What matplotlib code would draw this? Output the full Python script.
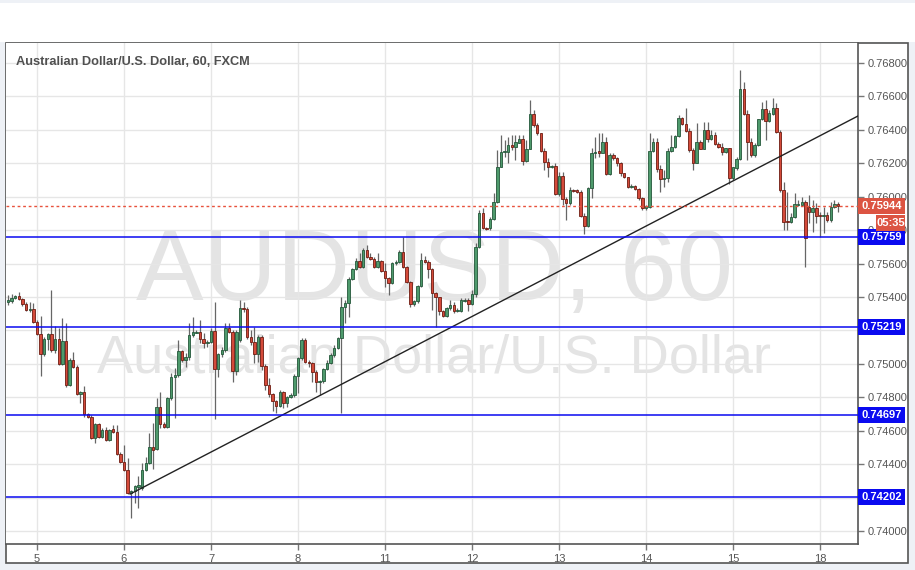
import numpy as np
import matplotlib.pyplot as plt
from matplotlib.patches import Rectangle
import matplotlib.transforms as mtransforms

plt.rcParams['font.family'] = ['Liberation Sans', 'DejaVu Sans']

# AUDUSD hourly candles, prices x 1e5
opens = [
    75370, 75376, 75394, 75406, 75388, 75358, 75322, 75328, 75250, 75179,
    75059, 75149, 75179, 75083, 75149, 74999, 75137, 74873, 75023, 74981,
    74820, 74832, 74700, 74682, 74556, 74640, 74562, 74604, 74544, 74610,
    74592, 74461, 74413, 74365, 74227, 74239, 74263, 74257, 74365, 74407,
    74503, 74491, 74742, 74640, 74622, 74796, 74921, 74933, 75077, 75023,
    75041, 75173, 75185, 75191, 75149, 75125, 75131, 75197, 74969, 75059,
    75083, 75215, 75191, 74957, 75143, 75334, 75328, 75161, 75131, 75059,
    75161, 74987, 74873, 74820, 74778, 74748, 74832, 74766, 74802, 74814,
    74927, 75035, 75143, 75011, 75005, 74951, 74891, 74897, 74969, 75005,
    75053, 75095, 75155, 75340, 75364, 75508, 75568, 75615, 75579, 75681,
    75639, 75627, 75579, 75615, 75556, 75514, 75484, 75603, 75609, 75669,
    75579, 75490, 75358, 75376, 75466, 75621, 75609, 75568, 75424, 75400,
    75316, 75286, 75334, 75352, 75316, 75316, 75376, 75382, 75358, 75418,
    75699, 75903, 75813, 75813, 75867, 75968, 76178, 76268, 76268, 76309,
    76297, 76321, 76345, 76212, 76285, 76495, 76429, 76381, 76273, 76206,
    76178, 76184, 76016, 76124, 75986, 75962, 76040, 76040, 76028, 75885,
    75825, 76052, 76262, 76273, 76262, 76327, 76136, 76250, 76232, 76202,
    76142, 76118, 76058, 76064, 76046, 75992, 75932, 75938, 76273, 76327,
    76166, 76106, 76112, 76273, 76297, 76363, 76471, 76435, 76393, 76279,
    76202, 76327, 76285, 76399, 76345, 76369, 76315, 76297, 76268, 76291,
    76112, 76172, 76226, 76644, 76495, 76327, 76250, 76309, 76465, 76525,
    76453, 76495, 76531, 76387, 76040, 75855, 75849, 75879, 75950, 75950,
    75968, 75938, 75909, 75932, 75891, 75885, 75891, 75861, 75938, 75956,
]
highs = [
    75412, 75418, 75412, 75430, 75394, 75370, 75370, 75364, 75262, 75286,
    75161, 75185, 75442, 75226, 75215, 75274, 75244, 75035, 75071, 74993,
    74838, 74867, 74706, 74694, 74646, 74646, 74616, 74622, 74610, 74634,
    74634, 74473, 74514, 74437, 74245, 74275, 74329, 74407, 74443, 74586,
    74646, 74796, 74832, 74652, 74802, 74945, 74975, 75143, 75083, 75065,
    75244, 75280, 75203, 75262, 75185, 75143, 75215, 75370, 75065, 75101,
    75244, 75244, 75203, 75203, 75382, 75370, 75340, 75203, 75220, 75173,
    75173, 74999, 74915, 74826, 74784, 74844, 74838, 74808, 74826, 74939,
    75041, 75155, 75155, 75023, 75011, 74963, 74903, 74975, 75023, 75065,
    75113, 75161, 75400, 75382, 75520, 75573, 75633, 75663, 75693, 75711,
    75663, 75639, 75663, 75621, 75603, 75520, 75609, 75621, 75681, 75759,
    75585, 75496, 75382, 75472, 75663, 75645, 75621, 75573, 75430, 75400,
    75322, 75340, 75382, 75370, 75334, 75394, 75394, 75394, 75442, 75723,
    75920, 75932, 75819, 75879, 76022, 76279, 76369, 76339, 76357, 76369,
    76369, 76369, 76369, 76339, 76579, 76519, 76441, 76381, 76291, 76230,
    76190, 76202, 76148, 76148, 75998, 76058, 76046, 76046, 76040, 75903,
    76058, 76291, 76357, 76381, 76381, 76357, 76262, 76262, 76236, 76208,
    76142, 76118, 76076, 76070, 76052, 75998, 75950, 76381, 76351, 76351,
    76190, 76160, 76291, 76369, 76369, 76489, 76477, 76531, 76411, 76291,
    76441, 76339, 76447, 76447, 76399, 76387, 76327, 76321, 76291, 76291,
    76178, 76236, 76758, 76686, 76519, 76351, 76321, 76465, 76567, 76579,
    76519, 76591, 76561, 76399, 76088, 76028, 75903, 76022, 75980, 75998,
    75980, 76010, 75980, 75962, 75909, 75938, 75909, 75968, 75980, 75968,
]
lows = [
    75352, 75364, 75388, 75382, 75346, 75316, 75310, 75244, 75173, 74927,
    75047, 75083, 75071, 75065, 74993, 74993, 74862, 74867, 74975, 74814,
    74766, 74682, 74676, 74550, 74526, 74556, 74556, 74538, 74538, 74586,
    74455, 74407, 74359, 74221, 74078, 74167, 74138, 74245, 74359, 74401,
    74371, 74485, 74616, 74616, 74616, 74784, 74676, 74921, 75011, 74981,
    75023, 75161, 75185, 75125, 75095, 75101, 75125, 74670, 74921, 75041,
    75071, 75185, 74891, 74933, 75131, 75310, 75149, 75113, 75005, 75011,
    74963, 74844, 74802, 74718, 74706, 74742, 74736, 74742, 74796, 74802,
    74826, 75023, 75005, 74981, 74891, 74832, 74814, 74885, 74963, 74999,
    75041, 75089, 74706, 75244, 75280, 75502, 75562, 75573, 75573, 75633,
    75621, 75573, 75573, 75550, 75460, 75412, 75478, 75591, 75603, 75573,
    75484, 75340, 75346, 75364, 75460, 75603, 75514, 75322, 75220, 75292,
    75280, 75280, 75322, 75304, 75310, 75310, 75370, 75316, 75352, 75400,
    75693, 75807, 75801, 75801, 75861, 75962, 76178, 76236, 76202, 76279,
    76219, 76321, 76190, 76206, 76285, 76417, 76369, 76268, 76160, 76118,
    76172, 76010, 76004, 75950, 75861, 75950, 76028, 76022, 75879, 75777,
    75819, 75992, 76232, 76236, 76321, 76130, 76130, 76219, 76184, 76124,
    76112, 76052, 76052, 76040, 75980, 75920, 75920, 75932, 76268, 76148,
    76028, 76058, 76088, 76268, 76291, 76357, 76429, 76387, 76268, 76160,
    76202, 76285, 76285, 76327, 76339, 76309, 76291, 76250, 76262, 76076,
    76100, 76160, 76219, 76489, 76219, 76236, 76236, 76303, 76459, 76339,
    76447, 76489, 76381, 76028, 75801, 75801, 75843, 75873, 75944, 75944,
    75579, 75843, 75789, 75843, 75759, 75783, 75849, 75849, 75932, 75909,
]
closes = [
    75382, 75394, 75406, 75388, 75358, 75322, 75328, 75250, 75179, 75059,
    75149, 75179, 75083, 75149, 74999, 75137, 74873, 75023, 74981, 74820,
    74832, 74700, 74682, 74556, 74640, 74562, 74604, 74544, 74604, 74592,
    74461, 74413, 74365, 74227, 74239, 74269, 74275, 74365, 74407, 74503,
    74485, 74742, 74640, 74622, 74796, 74921, 74933, 75077, 75023, 75041,
    75173, 75191, 75191, 75149, 75125, 75131, 75197, 74969, 75059, 75083,
    75215, 75191, 74957, 75191, 75334, 75328, 75161, 75131, 75059, 75161,
    74987, 74873, 74820, 74778, 74748, 74832, 74766, 74802, 74814, 74927,
    75035, 75143, 75011, 75005, 74951, 74891, 74897, 74969, 75005, 75053,
    75095, 75155, 75340, 75364, 75508, 75568, 75615, 75579, 75681, 75639,
    75627, 75579, 75615, 75556, 75514, 75484, 75603, 75609, 75669, 75579,
    75490, 75358, 75376, 75466, 75621, 75609, 75568, 75424, 75400, 75316,
    75286, 75334, 75352, 75316, 75322, 75382, 75382, 75358, 75418, 75699,
    75903, 75813, 75807, 75867, 75968, 76178, 76268, 76273, 76309, 76297,
    76327, 76345, 76212, 76285, 76495, 76429, 76381, 76273, 76206, 76178,
    76184, 76016, 76124, 75986, 75962, 76040, 76034, 76028, 75885, 75825,
    76052, 76262, 76268, 76262, 76327, 76136, 76250, 76232, 76202, 76142,
    76118, 76058, 76064, 76046, 75992, 75932, 75944, 76273, 76327, 76166,
    76106, 76112, 76273, 76297, 76363, 76471, 76435, 76393, 76279, 76202,
    76327, 76285, 76399, 76345, 76369, 76315, 76297, 76268, 76291, 76112,
    76178, 76226, 76644, 76495, 76327, 76250, 76309, 76465, 76525, 76453,
    76501, 76531, 76387, 76040, 75849, 75849, 75879, 75956, 75956, 75968,
    75753, 75909, 75932, 75885, 75885, 75891, 75861, 75938, 75956, 75944,
]

# day labels and the bar each day starts on
day_labels = ['5', '6', '7', '8', '11', '12', '13', '14', '15', '18']
day_bars = [8, 32, 56, 80, 104, 128, 152, 176, 200, 224]

# price scale ticks (labels hidden behind level boxes are left blank)
price_ticks = [0.740, 0.742, 0.744, 0.746, 0.748, 0.750, 0.752, 0.754,
               0.756, 0.758, 0.760, 0.762, 0.764, 0.766, 0.768]
hidden_ticks = [0.742, 0.752]

# drawn levels
levels = [0.75759, 0.75219, 0.74697, 0.74202]
last_price = 0.75944
countdown = '05:35'
trend_x = [33.7, 234.5]
trend_y = [0.74221, 0.76483]

o = np.array(opens) / 1e5
h = np.array(highs) / 1e5
l = np.array(lows) / 1e5
c = np.array(closes) / 1e5
x = np.arange(len(o))

W, H = 915, 570
fig = plt.figure(figsize=(W / 100, H / 100), dpi=100)
fig.patch.set_facecolor('#eef1f6')
fig.add_artist(Rectangle((0, 1 - 42 / H), 1, 39 / H, transform=fig.transFigure,
                         facecolor='white', edgecolor='none', zorder=-2))
fig.add_artist(Rectangle((6 / W, 1 - 563 / H), 902 / W, 520 / H, transform=fig.transFigure,
                         facecolor='white', edgecolor='#555555', lw=1.2, zorder=-1))

ax = fig.add_axes([6 / W, 1 - 544 / H, 852 / W, 501 / H])
ax.set_facecolor('white')
ax.set_xlim(-0.55, 234.5)
ax.set_ylim(0.739222, 0.769197)
ax.set_axisbelow(True)
ax.grid(True, color='#e6e6e6', lw=1)

for side in ['top', 'left']:
    ax.spines[side].set_visible(False)
for side in ['right', 'bottom']:
    ax.spines[side].set_color('#555555')
    ax.spines[side].set_linewidth(1.2)

ax.yaxis.tick_right()
ax.set_yticks(price_ticks)
ax.set_yticklabels(['' if any(abs(v - hv) < 1e-6 for hv in hidden_ticks) else '%.5f' % v
                    for v in price_ticks])
ax.set_xticks(day_bars)
ax.set_xticklabels(day_labels)
ax.tick_params(axis='both', labelsize=8, labelcolor='#555555', color='#777777',
               length=4, width=1)
ax.tick_params(axis='y', pad=3)
ax.tick_params(axis='x', pad=3)

# watermark
ax.text(0.5035, 0.487, 'AUDUSD, 60', transform=ax.transAxes, ha='center', va='baseline',
        fontsize=73, color='#e4e4e4', zorder=0.1)
ax.text(0.502, 0.343, 'Australian Dollar/U.S. Dollar', transform=ax.transAxes, ha='center',
        va='baseline', fontsize=39, color='#e4e4e4', zorder=0.1)
ax.text(0.0117, 0.956, 'Australian Dollar/U.S. Dollar, 60, FXCM', transform=ax.transAxes,
        ha='left', va='baseline', fontsize=9.2, fontweight='bold', color='#505050', zorder=7)

# candles
up = c >= o
dn = ~up
ax.vlines(x, l, h, color='#666666', lw=0.9, zorder=2)
ax.bar(x[up], c[up] - o[up], bottom=o[up], width=0.68, color='#4e9a6c',
       edgecolor='#24573a', lw=0.6, zorder=3)
ax.bar(x[dn], c[dn] - o[dn], bottom=o[dn], width=0.68, color='#d44a3a',
       edgecolor='#6e1c12', lw=0.6, zorder=3)

# lines
ax.plot(trend_x, trend_y, color='#222222', lw=1, zorder=4)
for lv in levels:
    ax.axhline(lv, color='#0a0af0', lw=1.1, zorder=4)
ax.axhline(last_price, color='#e8523d', lw=1, ls=(0, (2, 2)), zorder=4)

# price scale labels
blend = mtransforms.blended_transform_factory(ax.transAxes, ax.transData)
px = (0.769197 - 0.739222) / 501
bw = 47 / 852


def price_box(y, text, color, x0=1.0, w=bw):
    ax.add_patch(Rectangle((x0, y - 8 * px), w, 16 * px, transform=blend, facecolor=color,
                           edgecolor='none', clip_on=False, zorder=6))
    ax.text(x0 + w / 2, y, text, transform=blend, ha='center', va='center', color='white',
            fontsize=8, fontweight='bold', clip_on=False, zorder=7)


for lv in levels:
    price_box(lv, '%.5f' % lv, '#0a0af0')
price_box(last_price, '%.5f' % last_price, '#dc5442')
price_box(last_price - 17 * px, countdown, '#dc5442', x0=1.0 + 18 / 852, w=29 / 852)

fig.savefig('out.png', dpi=100, facecolor=fig.get_facecolor())
